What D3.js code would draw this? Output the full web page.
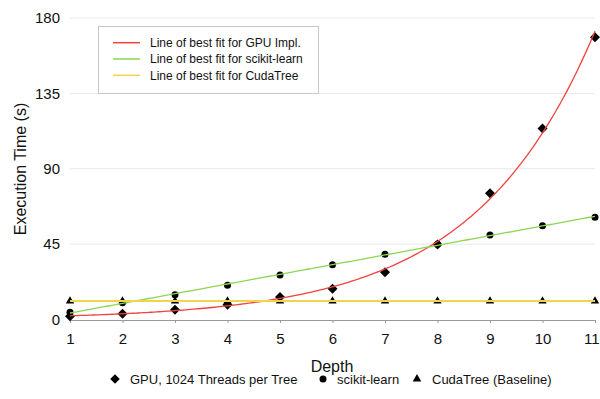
<!DOCTYPE html>
<html><head><meta charset="utf-8">
<script src="https://cdn.jsdelivr.net/npm/d3@7"></script>
<style>
html,body{margin:0;padding:0;background:#fff;}
text{font-family:"Liberation Sans",Arial,Helvetica,sans-serif;fill:#111;}
</style></head>
<body><svg id="c" width="600" height="399"></svg>
<script>
const depths = [1,2,3,4,5,6,7,8,9,10,11];
const gpuTimes = [2.0,3.4,5.8,8.8,13.4,18.3,28.2,44.8,75.3,114,168.5];
const sklearnTimes = [4.4,10,14.8,20.5,26.5,32.7,38.9,45,50.4,56,61];
const cudaTreeTimes = [11,11,11,11,11,11,11,11,11,11,11];
const yTicks = [0,45,90,135,180];
const seriesNames = ["GPU, 1024 Threads per Tree","scikit-learn","CudaTree (Baseline)"];
const fitNames = ["Line of best fit for GPU Impl.","Line of best fit for scikit-learn","Line of best fit for CudaTree"];
const fitColors = ["#f2423c","#8cd654","#f2d44a"];

function linFit(xs, ys){
  const mx=d3.mean(xs), my=d3.mean(ys);
  let sxy=0,sxx=0; xs.forEach((x,i)=>{sxy+=(x-mx)*(ys[i]-my); sxx+=(x-mx)*(x-mx);});
  const b=sxy/sxx; return x=> my + b*(x-mx);
}
function expFit(xs, ys){
  const f = linFit(xs, ys.map(Math.log)); return x=>Math.exp(f(x));
}

const svg = d3.select("#c");
const x = d3.scaleLinear().domain([1,11]).range([70,595]);
const y = d3.scaleLinear().domain([0,180]).range([319.5,18]);

// grid
svg.append("g").selectAll("line").data(yTicks.filter(t=>t>0)).join("line")
  .attr("x1",70).attr("x2",595).attr("y1",d=>y(d)).attr("y2",d=>y(d))
  .attr("stroke","#e8e8e8").attr("stroke-width",1);

// y axis
const ya = svg.append("g").attr("transform","translate(70,0)")
  .call(d3.axisLeft(y).tickValues(yTicks).tickSize(0).tickPadding(10));
ya.select(".domain").remove();
ya.selectAll("text").attr("font-size",15).attr("font-family",null);

// x axis
const xa = svg.append("g").attr("transform","translate(0,320)")
  .call(d3.axisBottom(x).tickValues(depths).tickSize(3).tickPadding(10).tickSizeOuter(0).tickFormat(d3.format("d")));
xa.select(".domain").attr("stroke","#999");
xa.selectAll(".tick line").attr("stroke","#999");
xa.selectAll("text").attr("font-size",15).attr("font-family",null);
xa.selectAll(".tick").filter(d=>d===11).select("text").attr("text-anchor","end").attr("x",4);

// titles
svg.append("text").attr("x",332).attr("y",372).attr("text-anchor","middle").attr("font-size",16).text("Depth");
svg.append("text").attr("transform","translate(26,169) rotate(-90)").attr("text-anchor","middle").attr("font-size",16).text("Execution Time (s)");

// markers
const gData = depths.map((d,i)=>[d,gpuTimes[i]]);
const sData = depths.map((d,i)=>[d,sklearnTimes[i]]);
const cData = depths.map((d,i)=>[d,cudaTreeTimes[i]]);
svg.append("g").selectAll("path").data(gData).join("path")
  .attr("d",d3.symbol().type(d3.symbolSquare).size(50))
  .attr("transform",d=>`translate(${x(d[0])},${y(d[1])}) rotate(45)`).attr("fill","#000");
svg.append("g").selectAll("circle").data(sData).join("circle")
  .attr("cx",d=>x(d[0])).attr("cy",d=>y(d[1])).attr("r",3.5).attr("fill","#000");
svg.append("g").selectAll("path").data(cData).join("path")
  .attr("d",d3.symbol().type(d3.symbolTriangle).size(30))
  .attr("transform",d=>`translate(${x(d[0])},${y(d[1])})`).attr("fill","#000");

// fit lines
const fits = [expFit(depths,gpuTimes), linFit(depths,sklearnTimes), linFit(depths,cudaTreeTimes)];
const xs = d3.range(1,11.001,0.05);
const line = d3.line().x(d=>x(d[0])).y(d=>y(d[1]));
fits.forEach((f,i)=>{
  svg.append("path").datum(xs.map(v=>[v,f(v)])).attr("d",line)
    .attr("fill","none").attr("stroke",fitColors[i]).attr("stroke-width",i==2?2:1.3);
});

// legend box
const lg = svg.append("g");
lg.append("rect").attr("x",98.5).attr("y",26.5).attr("width",220).attr("height",67)
  .attr("fill","#fff").attr("stroke","#c8c8c8");
fitNames.forEach((n,i)=>{
  const cy = 42.7 + i*16.3;
  lg.append("line").attr("x1",113).attr("x2",140).attr("y1",cy).attr("y2",cy)
    .attr("stroke",fitColors[i]).attr("stroke-width",1.5);
  lg.append("text").attr("x",150).attr("y",cy+4.3).attr("font-size",12).text(n);
});

// bottom legend
const bl = svg.append("g");
const bx = [115,323,417], tx=[130,337,432], by=379;
bl.append("path").attr("d",d3.symbol().type(d3.symbolSquare).size(45)).attr("transform",`translate(${bx[0]},${by}) rotate(45)`);
bl.append("circle").attr("cx",bx[1]).attr("cy",by).attr("r",3.5);
bl.append("path").attr("d",d3.symbol().type(d3.symbolTriangle).size(32)).attr("transform",`translate(${bx[2]},${by})`);
seriesNames.forEach((n,i)=>bl.append("text").attr("x",tx[i]).attr("y",by+4.6).attr("font-size",13).text(n));
</script></body></html>
